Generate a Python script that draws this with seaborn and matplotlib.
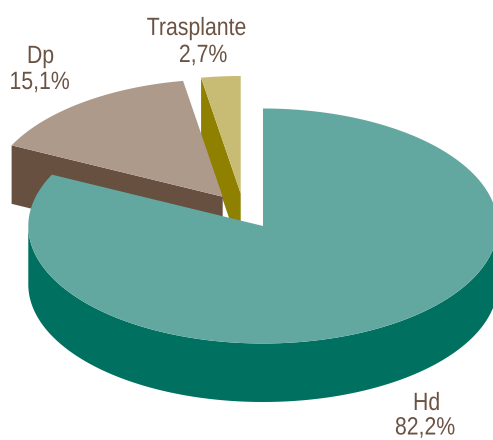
#!/usr/bin/env python3
import numpy as np
import matplotlib
matplotlib.use('Agg')
import matplotlib.pyplot as plt
import matplotlib.patheffects as pe
from matplotlib.transforms import Affine2D
import seaborn as sns

labels = ['Hd', 'Dp', 'Trasplante']
values = [82.2, 15.1, 2.7]
value_labels = ['82,2%', '15,1%', '2,7%']
top_colors = ['#63a8a0', '#ad9a8b', '#c8bc74']
side_colors = ['#007060', '#675040', '#8f8000']

# pie layout, in pixels of the reference
centers = [(263, 226), (222.7, 196.7), (240.7, 193.5)]
name_pos = [(426.5, 410), (40.5, 63), (196.5, 35)]
value_pos = [(425, 434.5), (39.5, 89), (203, 62)]
rx, ry = 234.7, 117.5
depth = 58.5

sns.set_theme(style='white')
plt.rcParams['font.family'] = ['Liberation Sans', 'DejaVu Sans']


class Narrow(pe.AbstractPathEffect):
    # no condensed font here, so squeeze the glyphs around the text centre
    def __init__(self, x0, sx=0.85):
        super().__init__()
        self.x0 = x0
        self.sx = sx

    def draw_path(self, renderer, gc, tpath, affine, rgbFace=None):
        squeeze = Affine2D().translate(-self.x0, 0).scale(self.sx, 1).translate(self.x0, 0)
        renderer.draw_path(gc, tpath, affine + squeeze, rgbFace)


fig, ax = plt.subplots(figsize=(4.93, 4.40), dpi=100)
ax.set_position([0, 0, 1, 1])
ax.set_xlim(0, 493)
ax.set_ylim(440, 0)
ax.axis('off')


def ring(c, a):
    # angle clockwise from 12 o'clock, flattened circle
    return c[0] + rx * np.sin(a), c[1] - ry * np.cos(a)


edges = np.deg2rad(np.cumsum([0] + values) * 3.6)

# back wedges first so that the big one lies over them
for i in [2, 1, 0]:
    c = centers[i]
    a0, a1 = edges[i], edges[i + 1]

    # cut face on the starting edge
    if i:
        ex, ey = ring(c, a0)
        ax.fill([ex, c[0], c[0], ex], [ey, c[1], c[1] + depth, ey + depth],
                color=side_colors[i], lw=0)

    # outer wall, only the front half of the ellipse shows
    lo, hi = max(a0, np.pi / 2), min(a1, 3 * np.pi / 2)
    if hi > lo:
        t = np.linspace(lo, hi, 200)
        x, y = ring(c, t)
        ax.fill(np.r_[x, x[::-1]], np.r_[y, y[::-1] + depth],
                color=side_colors[i], lw=0)

    t = np.linspace(a0, a1, 400)
    x, y = ring(c, t)
    ax.fill(np.r_[c[0], x], np.r_[c[1], y], color=top_colors[i], lw=0)

for name, val, p0, p1 in zip(labels, value_labels, name_pos, value_pos):
    ax.text(p0[0], p0[1], name, ha='center', va='baseline', fontsize=18,
            color='#6b5344', path_effects=[Narrow(p0[0])])
    ax.text(p1[0], p1[1], val, ha='center', va='baseline', fontsize=18,
            color='#6b5344', path_effects=[Narrow(p1[0])])

fig.savefig('out.png', dpi=100)
